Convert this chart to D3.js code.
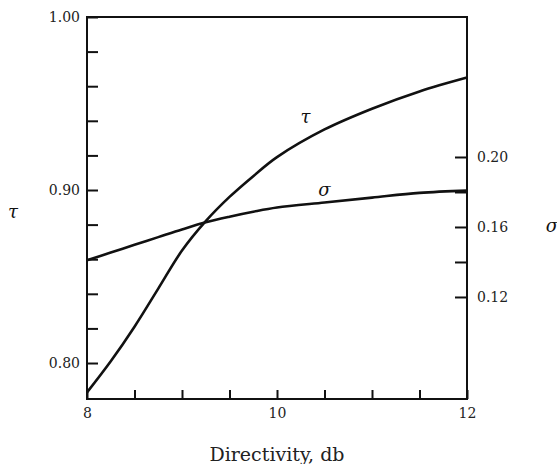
<!DOCTYPE html>
<html>
<head>
<meta charset="utf-8">
<script src="https://cdn.jsdelivr.net/npm/d3@7"></script>
<style>
  body { margin: 0; background: #fff; }
  svg { display: block; }
  .axis path { display: none; }
  .axis line { stroke: #111; stroke-width: 2; }
  .axis text { font-family: "DejaVu Serif", serif; font-size: 14px; fill: #222; }
</style>
</head>
<body>
<svg id="chart" width="557" height="464"></svg>
<script>
// directivity (db) values where the curves were read
const directivity = [8, 8.25, 8.5, 8.75, 9, 9.25, 9.5, 9.75, 10, 10.5, 11, 11.5, 12];
const tau =         [0.783, 0.801, 0.821, 0.843, 0.865, 0.882, 0.896, 0.908, 0.919, 0.935, 0.947, 0.957, 0.965];
const sigma =       [0.141, 0.1454, 0.1498, 0.1542, 0.1586, 0.1627, 0.1659, 0.1687, 0.1711, 0.1740, 0.1768, 0.1795, 0.1808];

const xTicks = [8, 8.5, 9, 9.5, 10, 10.5, 11, 11.5, 12];
const xLabels = [8, 10, 12];
const tauTicks = [0.80, 0.82, 0.84, 0.86, 0.88, 0.90, 0.92, 0.94, 0.96, 0.98, 1.00];
const tauLabels = [0.80, 0.90, 1.00];
const sigmaTicks = [0.12, 0.14, 0.16, 0.18, 0.20];
const sigmaLabels = [0.12, 0.16, 0.20];

const svg = d3.select("#chart");
const margin = {top: 17, right: 90, bottom: 65, left: 87};
const width = +svg.attr("width") - margin.left - margin.right;
const height = +svg.attr("height") - margin.top - margin.bottom;
const g = svg.append("g").attr("transform", "translate(" + margin.left + "," + margin.top + ")");

const x = d3.scaleLinear().domain([8, 12]).range([0, width]);
const y = d3.scaleLinear().domain([0.7792, 1.0]).range([height, 0]);
const y2 = d3.scaleLinear().domain([0.0617, 0.2800]).range([height, 0]);

// ticks (inside the frame)
g.append("g").attr("class", "axis")
    .attr("transform", "translate(0," + height + ")")
    .call(d3.axisTop(x).tickValues(xTicks).tickSize(9).tickFormat(""));
g.append("g").attr("class", "axis")
    .call(d3.axisRight(y).tickValues(tauTicks).tickSize(11).tickFormat(""));
g.append("g").attr("class", "axis")
    .attr("transform", "translate(" + width + ",0)")
    .call(d3.axisLeft(y2).tickValues(sigmaTicks).tickSize(12).tickFormat(""));

// labels
g.append("g").attr("class", "axis")
    .attr("transform", "translate(0," + height + ")")
    .call(d3.axisBottom(x).tickValues(xLabels).tickSize(0).tickPadding(9).tickFormat(d3.format("d")));
g.append("g").attr("class", "axis")
    .call(d3.axisLeft(y).tickValues(tauLabels).tickSize(0).tickPadding(7).tickFormat(d3.format(".2f")));
g.append("g").attr("class", "axis")
    .attr("transform", "translate(" + width + ",0)")
    .call(d3.axisRight(y2).tickValues(sigmaLabels).tickSize(0).tickPadding(10).tickFormat(d3.format(".2f")));

// frame
g.append("rect")
    .attr("width", width).attr("height", height)
    .attr("fill", "none").attr("stroke", "#111").attr("stroke-width", 2);

const tauLine = d3.line()
    .x((d, i) => x(directivity[i]))
    .y(d => y(d))
    .curve(d3.curveCatmullRom.alpha(0.5));
const sigmaLine = d3.line()
    .x((d, i) => x(directivity[i]))
    .y(d => y2(d))
    .curve(d3.curveCatmullRom.alpha(0.5));

g.append("path").attr("d", tauLine(tau))
    .attr("fill", "none").attr("stroke", "#111").attr("stroke-width", 2.6);
g.append("path").attr("d", sigmaLine(sigma))
    .attr("fill", "none").attr("stroke", "#111").attr("stroke-width", 2.6);

// curve names
const italic = {"font-family": "DejaVu Serif, serif", "font-style": "italic", "font-size": "18px", "fill": "#111"};
function label(sel, t) {
  Object.entries(italic).forEach(([k, v]) => sel.style(k, v));
  return sel.attr("text-anchor", "middle").text(t);
}
label(g.append("text").attr("x", x(10.3)).attr("y", y(0.9385)), "τ");
label(g.append("text").attr("x", x(10.5)).attr("y", y2(0.1775)), "σ");
label(svg.append("text").attr("x", 13).attr("y", 218), "τ");
label(svg.append("text").attr("x", 552).attr("y", 232), "σ");

svg.append("text")
    .attr("x", margin.left + width / 2).attr("y", 461)
    .attr("text-anchor", "middle")
    .style("font-family", "DejaVu Serif, serif")
    .style("font-size", "19px")
    .style("fill", "#222")
    .text("Directivity, db");
</script>
</body>
</html>
